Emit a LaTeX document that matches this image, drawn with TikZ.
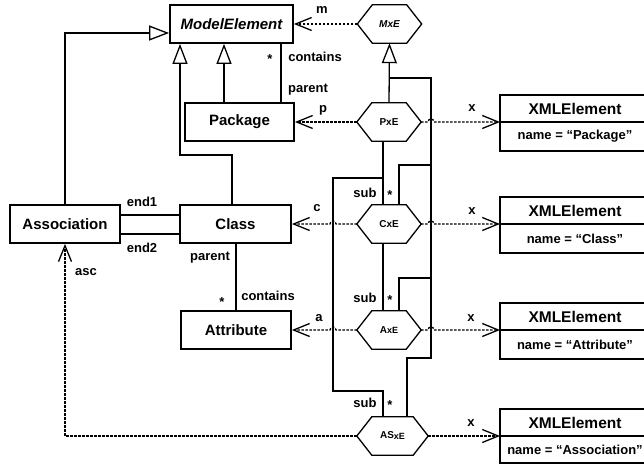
\documentclass[tikz,border=0pt]{standalone}
\usepackage{fontspec}
\setmainfont{Liberation Sans}
\usetikzlibrary{arrows.meta}
\newcommand\hexdraw[1]{\draw[ln] (#1.west) -- ([xshift=15pt]#1.north west) -- ([xshift=-15pt]#1.north east) -- (#1.east) -- ([xshift=-15pt]#1.south east) -- ([xshift=15pt]#1.south west) -- cycle;}
\begin{document}
\begin{tikzpicture}[x=1pt,y=-1pt,
  box/.style={draw,line width=1.8pt,inner sep=0pt,font=\fontsize{15}{18}\selectfont\bfseries},
  hexn/.style={inner sep=0pt,minimum width=64pt,minimum height=38pt,font=\fontsize{10}{12}\selectfont\bfseries},
  lbl/.style={inner sep=0pt,font=\fontsize{13}{15}\selectfont\bfseries},
  ln/.style={line width=1.3pt},
  inh/.style={ln,-{Triangle[open,length=20pt,width=15pt,line width=1.3pt]}},
  nav/.style={ln,dash pattern=on 2.5pt off 1.5pt,-{Straight Barb[length=16pt,width=13pt,line width=1.3pt]}},
  xh/.style={draw,line width=1.8pt,outer sep=0pt,minimum width=150pt,minimum height=27pt,inner sep=0pt,font=\fontsize{15.5}{18}\selectfont\bfseries},
  xb/.style={draw,line width=1.8pt,outer sep=0pt,minimum width=150pt,minimum height=29pt,inner sep=0pt,font=\fontsize{13}{15}\selectfont\bfseries},
]
\clip (0,0) rectangle (644,465);
% class boxes
\node[box,minimum width=123pt,minimum height=38pt,font=\fontsize{15}{18}\selectfont\bfseries\itshape] (me) at (231.5,24) {ModelElement};
\node[box,minimum width=109pt,minimum height=38pt] (pkg) at (239.5,122) {Package};
\node[box,minimum width=111pt,minimum height=38pt] (cls) at (235.5,224) {Class};
\node[box,minimum width=110pt,minimum height=38pt] (asc) at (65,224) {Association};
\node[box,minimum width=110pt,minimum height=38pt] (att) at (236,330) {Attribute};
% hexagons
\node[hexn,font=\fontsize{10}{12}\selectfont\bfseries\itshape] (mxe) at (389.5,24) {MxE};
\node[hexn] (pxe) at (389,122) {PxE};
\node[hexn] (cxe) at (389,224) {CxE};
\node[hexn] (axe) at (389,330) {A{\fontsize{9}{9}\selectfont xE}};
\node[hexn,minimum width=71pt] (asxe) at (392.5,436) {AS\raisebox{-1pt}{\fontsize{9}{9}\selectfont xE}};
\hexdraw{mxe}\hexdraw{pxe}\hexdraw{cxe}\hexdraw{axe}\hexdraw{asxe}
% XML elements
\node[xh,anchor=south west] (xh1) at (500,122) {XMLElement};
\node[xb,anchor=north west] (xb1) at (500,122) {name = “Package”};
\node[xh,anchor=south west] (xh2) at (500,224) {XMLElement};
\node[xb,anchor=north west] (xb2) at (500,224) {name = “Class”};
\node[xh,anchor=south west] (xh3) at (500,330) {XMLElement};
\node[xb,anchor=north west] (xb3) at (500,330) {name = “Attribute”};
\node[xh,anchor=south west] (xh4) at (500,436) {XMLElement};
\node[xb,anchor=north west,minimum height=27pt] (xb4) at (500,436) {name = “Association”};
% inheritance to ModelElement
\draw[inh] (asc.north) |- ([yshift=-9pt]me.west);
\draw[inh] (pkg.north -| 224,0) -- (me.south -| 224,0);
\draw[inh] (cls.north -| 232,0) -- (232,155) -- (180,155) -- (me.south -| 180,0);
% associations
\draw[ln] (pkg.north -| 281,0) -- (me.south -| 281,0);
\draw[ln] (asc.east |- 0,215) -- (cls.west |- 0,215);
\draw[ln] (asc.east |- 0,234) -- (cls.west |- 0,234);
\draw[ln] (cls.south -| 236,0) -- (att.north -| 236,0);
% inheritance to MxE
\draw[inh] (pxe.north) -- (mxe.south);
\draw[ln] (389,78) -- (431,78) -- (431,358) -- (407,358) -- (asxe.north -| 407,0);
\draw[ln] (431,165) -- (399,165) -- (cxe.north -| 399,0);
\draw[ln] (431,278) -- (399,278) -- (axe.north -| 399,0);
% sub links
\draw[ln] (pxe.south -| 383,0) -- (cxe.north -| 383,0);
\draw[ln] (383,178) -- (333,178) -- (333,391) -- (383,391) -- (asxe.north -| 383,0);
\draw[ln] (cxe.south -| 383,0) -- (axe.north -| 383,0);
% navigation arrows
\draw[nav] (mxe.west) -- (me.east);
\draw[nav] (pxe.west) -- (pkg.east);
\draw[nav] (cxe.west) -- (336,224) arc[start angle=0,end angle=180,radius=3pt] -- (cls.east);
\draw[nav] (axe.west) -- (336,330) arc[start angle=0,end angle=180,radius=3pt] -- (att.east);
\draw[nav] (pxe.east) -- (428,122) arc[start angle=180,end angle=0,radius=3pt] -- (xh1.south west);
\draw[nav] (cxe.east) -- (428,224) arc[start angle=180,end angle=0,radius=3pt] -- (xh2.south west);
\draw[nav] (axe.east) -- (428,330) arc[start angle=180,end angle=0,radius=3pt] -- (xh3.south west);
\draw[nav] (asxe.east) -- (xh4.south west);
\draw[nav] (asxe.west) -| (asc.south);
% labels
\node[lbl] (lm) at (322,10) {m};
\node[lbl] (lp) at (323,110) {p};
\node[lbl] (lc) at (317,208) {c};
\node[lbl] (la) at (319,318) {a};
\node[lbl] (lx1) at (472,108) {x};
\node[lbl] (lx2) at (472,211) {x};
\node[lbl] (lx3) at (471,318) {x};
\node[lbl] (lx4) at (471,423) {x};
\node[lbl] (s1) at (270,59) {*};
\node[lbl] (c1) at (315,57) {contains};
\node[lbl] (p1) at (308,90) {parent};
\node[lbl] (e1) at (142,202) {end1};
\node[lbl] (e2) at (142,248) {end2};
\node[lbl] (p2) at (210,258) {parent};
\node[lbl] (s2) at (222,302) {*};
\node[lbl] (c2) at (268,296) {contains};
\node[lbl] (lasc) at (86,272) {asc};
\node[lbl] (sub1) at (365,193) {sub};
\node[lbl] (st1) at (390,195) {*};
\node[lbl] (sub2) at (365,298) {sub};
\node[lbl] (st2) at (390,300) {*};
\node[lbl] (sub3) at (365,403) {sub};
\node[lbl] (st3) at (390,405) {*};
\end{tikzpicture}
\end{document}
